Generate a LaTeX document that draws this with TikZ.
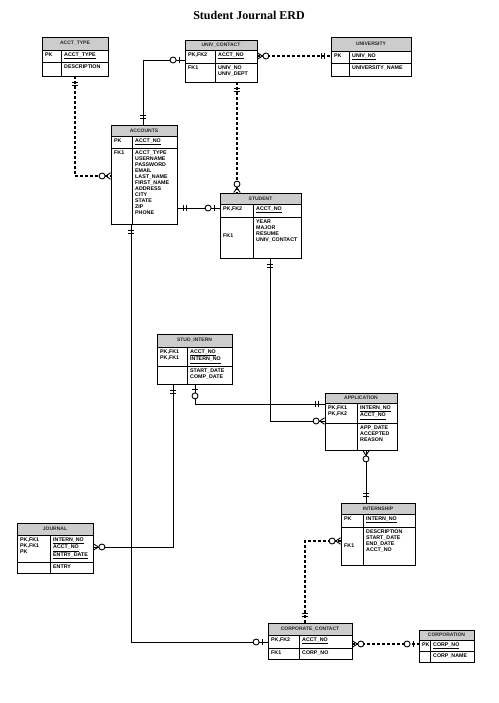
\documentclass[tikz,border=0pt]{standalone}
\usepackage{fontspec}
\setmainfont{Liberation Sans}
\newfontfamily\titlefont{Liberation Serif}
\tikzset{
  tbl/.style={draw, line width=0.8pt, inner sep=0pt},
  hdr/.style={fill=gray!40},
  gridl/.style={line width=0.8pt},
  cell/.style={inner sep=0pt, anchor=north west, align=left, font=\fontsize{5.3}{6}\selectfont\bfseries},
  hdrtext/.style={inner sep=0pt, font=\fontsize{5}{6}\selectfont\bfseries, text=black!85},
  rel/.style={line width=0.9pt},
  opt/.style={line width=1.2pt, dash pattern=on 3pt off 2pt},
  symline/.style={line width=0.9pt},
}
% table frame: name, x1, y1, x2, y2, header bottom, key row bottom, divider x, title
\newcommand\erdtbl[9]{%
  \fill[hdr] (#2,#3) rectangle (#4,#6);
  \draw[gridl] (#2,#6) -- (#4,#6) (#2,#7) -- (#4,#7) (#8,#6) -- (#8,#5);
  \node[tbl, minimum width={(#4-#2)*1pt}, minimum height={(#5-#3)*1pt}] (#1) at ({(#2+#4)/2},{(#3+#5)/2}) {};
  \node[hdrtext] (#1-title) at ({(#2+#4)/2},{(#3+#6)/2}) {#9};
}
% table text: name, x1, xd, yh, yr, key-left, key-right, attr-left, attr-right
\newcommand\erdtext[9]{%
  \node[cell] (#1-kl) at (#2+3,#4+2.6) {#6};
  \node[cell] (#1-kr) at (#3+3,#4+2.6) {#7};
  \node[cell] (#1-al) at (#2+3,#5+2.6) {#8};
  \node[cell] (#1-ar) at (#3+3,#5+2.6) {#9};
}
\newcommand\symone[2]{\begin{scope}[shift={(#1)},rotate=#2]
  \draw[symline] (6pt,-3.2pt)--(6pt,3.2pt) (9pt,-3.2pt)--(9pt,3.2pt);\end{scope}}
\newcommand\symzo[2]{\begin{scope}[shift={(#1)},rotate=#2]
  \draw[symline] (5.5pt,-3.2pt)--(5.5pt,3.2pt);
  \draw[symline,fill=white] (11.5pt,0) circle (3pt);\end{scope}}
\newcommand\symzm[2]{\begin{scope}[shift={(#1)},rotate=#2]
  \draw[symline] (0,3.2pt)--(5pt,0)--(0,-3.2pt);
  \draw[symline,fill=white] (8.5pt,0) circle (3pt);\end{scope}}
\newcommand\ul[1]{\underline{#1}}
\begin{document}
\begin{tikzpicture}[x=1pt,y=-1pt]
\useasboundingbox[fill=white] (0,0) rectangle (498,703);
\node[font=\titlefont\bfseries\fontsize{12}{14}\selectfont] (title) at (249,15) {Student Journal ERD};

% tables
\erdtbl{accttype}{42}{37}{108}{76}{50}{62}{61}{ACCT\_TYPE}
\erdtext{accttype}{42}{61}{50}{62}{PK}{\ul{ACCT\_TYPE}}{}{DESCRIPTION}

\erdtbl{univcontact}{185}{40}{257}{82}{50}{63}{215}{UNIV\_CONTACT}
\erdtext{univcontact}{185}{215}{50}{63}{PK,FK2}{\ul{ACCT\_NO}}{FK1}{UNIV\_NO\\UNIV\_DEPT}

\erdtbl{university}{331}{37}{411}{76}{51}{63}{349}{UNIVERSITY}
\erdtext{university}{331}{349}{51}{63}{PK}{\ul{UNIV\_NO}}{}{UNIVERSITY\_NAME}

\erdtbl{accounts}{111}{125}{177}{224}{136}{148}{132}{ACCOUNTS}
\erdtext{accounts}{111}{132}{136}{148}{PK}{\ul{ACCT\_NO}}{FK1}{ACCT\_TYPE\\USERNAME\\PASSWORD\\EMAIL\\LAST\_NAME\\FIRST\_NAME\\ADDRESS\\CITY\\STATE\\ZIP\\PHONE}

\erdtbl{student}{220}{193}{301}{258}{204}{217}{253}{STUDENT}
\erdtext{student}{220}{253}{204}{217}{PK,FK2}{\ul{ACCT\_NO}}{\mbox{}\\\mbox{}\\\mbox{}\\FK1}{YEAR\\MAJOR\\RESUME\\UNIV\_CONTACT}

\erdtbl{studintern}{157}{334}{232}{384}{347}{366}{187}{STUD\_INTERN}
\erdtext{studintern}{157}{187}{347}{366}{PK,FK1\\PK,FK1}{\ul{ACCT\_NO}\\\ul{INTERN\_NO}}{}{START\_DATE\\COMP\_DATE}

\erdtbl{application}{325}{393}{397}{450}{403}{423}{357}{APPLICATION}
\erdtext{application}{325}{357}{403}{423}{PK,FK1\\PK,FK2}{\ul{INTERN\_NO}\\\ul{ACCT\_NO}}{}{APP\_DATE\\ACCEPTED\\REASON}

\erdtbl{internship}{341}{503}{415}{565}{514}{527}{363}{INTERNSHIP}
\erdtext{internship}{341}{363}{514}{527}{PK}{\ul{INTERN\_NO}}{\mbox{}\\\mbox{}\\\mbox{}\\FK1}{DESCRIPTION\\START\_DATE\\END\_DATE\\ACCT\_NO}

\erdtbl{journal}{17}{523}{93}{573}{535}{562}{50}{JOURNAL}
\erdtext{journal}{17}{50}{535}{562}{PK,FK1\\PK,FK1\\PK}{\ul{INTERN\_NO}\\\ul{ACCT\_NO}\\\ul{ENTRY\_DATE}}{}{ENTRY}

\erdtbl{corpcontact}{268}{623}{352}{659}{635}{648}{299}{CORPORATE\_CONTACT}
\erdtext{corpcontact}{268}{299}{635}{648}{PK,FK2}{\ul{ACCT\_NO}}{FK1}{CORP\_NO}

\erdtbl{corporation}{419}{630}{474}{662}{640}{651}{430}{CORPORATION}
\erdtext{corporation}{419}{430}{640}{651}{PK}{\ul{CORP\_NO}}{}{CORP\_NAME}

% routing coordinates
\coordinate (r1) at (75,176);
\coordinate (r2) at (143,60);
\coordinate (r3) at (0,56);
\coordinate (r4) at (237,0);
\coordinate (r5) at (0,208);
\coordinate (r6) at (131,642);
\coordinate (r7) at (270,421);
\coordinate (r8) at (195,404);
\coordinate (r9) at (173,547);
\coordinate (r10) at (366,0);
\coordinate (r11) at (305,541);
\coordinate (r12) at (0,644);

% connectors
\draw[opt] (accttype.south -| r1) |- (accounts.west |- r1);
\draw[rel] (accounts.north -| r2) |- (univcontact.west |- r2);
\draw[opt] (univcontact.east |- r3) -- (university.west |- r3);
\draw[opt] (univcontact.south -| r4) -- (student.north -| r4);
\draw[rel] (accounts.east |- r5) -- (student.west |- r5);
\draw[rel] (accounts.south -| r6) |- (corpcontact.west |- r6);
\draw[rel] (student.south -| r7) |- (application.west |- r7);
\draw[rel] (studintern.south -| r8) |- (application.west |- r8);
\draw[rel] (studintern.south -| r9) |- (journal.east |- r9);
\draw[rel] (application.south -| r10) -- (internship.north -| r10);
\draw[opt] (internship.west |- r11) -| (corpcontact.north -| r11);
\draw[opt] (corpcontact.east |- r12) -- (corporation.west |- r12);

% cardinality symbols
\symone{accttype.south -| r1}{270}
\symzm{accounts.west |- r1}{180}
\symone{accounts.north -| r2}{90}
\symzo{univcontact.west |- r2}{180}
\symzm{univcontact.east |- r3}{0}
\symone{university.west |- r3}{180}
\symone{univcontact.south -| r4}{270}
\symzm{student.north -| r4}{90}
\symone{accounts.east |- r5}{0}
\symzo{student.west |- r5}{180}
\symone{accounts.south -| r6}{270}
\symzo{corpcontact.west |- r6}{180}
\symone{student.south -| r7}{270}
\symzm{application.west |- r7}{180}
\symzo{studintern.south -| r8}{270}
\symone{application.west |- r8}{180}
\symone{studintern.south -| r9}{270}
\symzm{journal.east |- r9}{0}
\symzm{application.south -| r10}{270}
\symone{internship.north -| r10}{90}
\symzm{internship.west |- r11}{180}
\symone{corpcontact.north -| r11}{90}
\symzm{corpcontact.east |- r12}{0}
\symzo{corporation.west |- r12}{180}
\end{tikzpicture}
\end{document}
